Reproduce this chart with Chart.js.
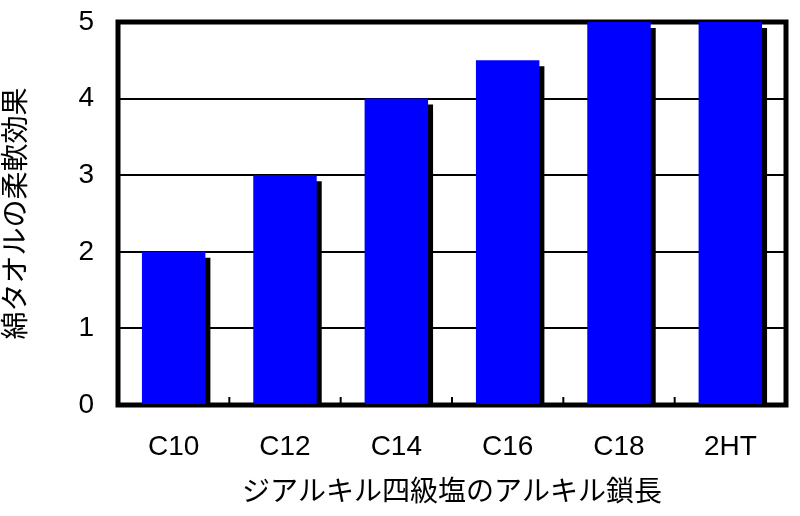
<!DOCTYPE html>
<html>
<head>
<meta charset="utf-8">
<script src="https://cdn.jsdelivr.net/npm/chart.js@4"></script>
<style>
html,body{margin:0;padding:0;background:#fff;}
#wrap{width:800px;height:516px;position:relative;}
</style>
</head>
<body>
<div id="wrap"><canvas id="c" width="800" height="516"></canvas></div>
<script>
const categories = ['C10', 'C12', 'C14', 'C16', 'C18', '2HT'];
const softness = [2, 3, 4, 4.5, 5, 5];
const yTicks = [0, 1, 2, 3, 4, 5];
const xTitle = 'ジアルキル四級塩のアルキル鎖長';
const yTitle = '綿タオルの柔軟効果';

const FONT = "'Liberation Sans', Arial, 'Noto Sans CJK JP', sans-serif";

const shadowPlugin = {
  id: 'barShadow',
  beforeDatasetsDraw(chart) {
    const ctx = chart.ctx, a = chart.chartArea;
    ctx.save();
    ctx.strokeStyle = '#000';
    ctx.lineWidth = 5;
    ctx.strokeRect(a.left, a.top, a.right - a.left, a.bottom - a.top);
    const xs = chart.scales.x;
    ctx.lineWidth = 2;
    for (let i = 1; i < categories.length; i++) {
      const x = (xs.getPixelForValue(i - 1) + xs.getPixelForValue(i)) / 2;
      ctx.beginPath();
      ctx.moveTo(x, a.bottom);
      ctx.lineTo(x, a.bottom - 8);
      ctx.stroke();
    }
    ctx.restore();
  },
  beforeDatasetDraw(chart) {
    const ctx = chart.ctx;
    ctx.save();
    ctx.shadowColor = '#000';
    ctx.shadowBlur = 0;
    ctx.shadowOffsetX = 5;
    ctx.shadowOffsetY = 6;
  },
  afterDatasetDraw(chart) {
    chart.ctx.restore();
  }
};

new Chart(document.getElementById('c'), {
  type: 'bar',
  data: {
    labels: categories,
    datasets: [{
      data: softness,
      backgroundColor: '#0000ff',
      borderWidth: 0,
      categoryPercentage: 1,
      barPercentage: 0.57,
      clip: 0
    }]
  },
  options: {
    responsive: false,
    animation: false,
    devicePixelRatio: 1,
    layout: { padding: { top: 22, right: 14, left: 0, bottom: 0 } },
    plugins: { legend: { display: false }, tooltip: { enabled: false } },
    scales: {
      x: {
        offset: true,
        grid: { display: false, drawTicks: false },
        border: { display: false },
        ticks: { color: '#000', font: { family: FONT, size: 28 }, padding: 25, maxRotation: 0 },
        title: { display: true, text: xTitle, color: '#000', font: { family: FONT, size: 28 }, padding: { top: 0, bottom: 6 } },
        afterFit(s) { s.height = 111; s.paddingLeft = 0; s.paddingRight = 0; }
      },
      y: {
        min: 0, max: 5,
        afterBuildTicks(s) { s.ticks = yTicks.map(v => ({ value: v })); },
        grid: { color: '#000', lineWidth: 2, drawTicks: false },
        border: { display: false },
        ticks: { color: '#000', font: { family: FONT, size: 28 }, padding: 24 },
        title: { display: true, text: yTitle, color: '#000', font: { family: FONT, size: 28 }, padding: { top: 0, bottom: 0 } },
        afterFit(s) { s.width = 118; s.paddingTop = 0; s.paddingBottom = 0; }
      }
    }
  },
  plugins: [shadowPlugin]
});
</script>
</body>
</html>
